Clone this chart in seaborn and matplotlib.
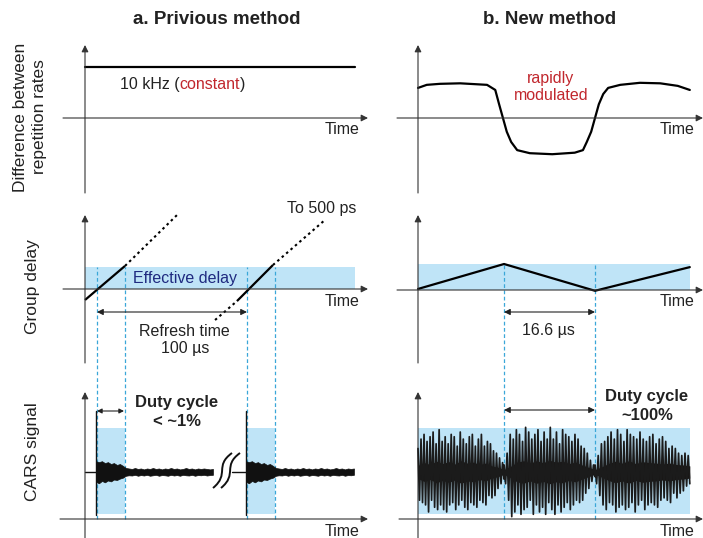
import numpy as np
import matplotlib
matplotlib.use("Agg")
import matplotlib.pyplot as plt
import seaborn as sns
from matplotlib.path import Path
from matplotlib.patches import PathPatch, Rectangle

sns.set_style("white")
plt.rcParams["font.family"] = ["Liberation Sans", "DejaVu Sans"]

W, H = 703, 538

# ---------------------------------------------------------------
# DATA
# ---------------------------------------------------------------
# top row: difference between repetition rates (kHz)
old_rate_t = [0, 180]
old_rate_v = [10, 10]
new_rate_t = [0.0, 1.6, 4.0, 7.7, 12.6, 14.1, 14.8, 15.5, 16.2, 17.0, 18.1, 20.4, 24.5,
              28.6, 30.1, 30.8, 31.6, 32.3, 33.0, 33.8, 34.7, 36.9, 40.5, 44.2, 47.4, 49.6]
new_rate_v = [5.9, 6.5, 6.7, 6.8, 6.5, 5.5, 2.7, 0.0, -2.7, -4.7, -6.3, -6.9, -7.1,
              -6.8, -6.3, -4.7, -2.7, 0.0, 2.7, 4.7, 5.9, 6.5, 6.9, 6.8, 6.3, 5.5]

# middle row: group delay (effective delay window = 0..1)
old_solid = [([0, 26.7], [-0.5, 1.05]), ([101.3, 125.3], [-0.55, 1.09])]
old_dotted = [([26.7, 61.3], [1.05, 3.36]), ([86.7, 101.3], [-1.41, -0.55]),
              ([125.3, 160], [1.09, 3.14])]
new_delay_t = [0, 15.7, 32.3, 49.6]
new_delay_v = [0.04, 1.0, -0.03, 0.88]
old_band_t = [0, 180]
new_band_t = [0, 49.6]
old_marks = [8, 26.5, 108, 126.5]      # µs
new_marks = [15.7, 32.3]               # µs

# bottom row: CARS signal (baseline 10 a.u.)
baseline = 10
old_spikes = [7.3, 107.3]
old_ends = [85.3, 179.3]
spike_lo, spike_hi = 0.85, 23.0
env_step = 2.0
env_upper = [2.3, 2.1, 2.3, 1.9, 2.1, 1.7, 1.9, 1.5, 1.7, 1.3, 0.85, 0.75, 0.65, 0.85,
             0.65, 0.75, 0.55, 0.75, 0.65, 0.85, 0.65, 0.75, 0.55, 0.75, 0.65, 0.85,
             0.65, 0.75, 0.55, 0.65, 0.85, 0.65, 0.75, 0.55, 0.75, 0.65, 0.75, 0.65,
             0.55, 0.65]
env_lower = [2.1, 2.4, 1.9, 2.2, 1.8, 2.0, 1.6, 1.7, 1.4, 1.2, 0.8, 0.7, 0.75, 0.6,
             0.8, 0.65, 0.75, 0.6, 0.8, 0.7, 0.6, 0.8, 0.65, 0.7, 0.8, 0.6, 0.75, 0.65,
             0.8, 0.6, 0.7, 0.75, 0.6, 0.8, 0.65, 0.7, 0.6, 0.75, 0.65, 0.6]
old_cars_band = [(8, 26.5), (108, 126.5)]
cars_band_v = (1.06, 19.4)

new_seg1 = [5, -6, 7, -6.5, 8, -7, 6.5, -8.5, 7.5, -6, 8.5, -7.5, 6, -8, 9, -7, 6.5, -8,
            7.5, -8.5, 6, -7, 8, -6.5, 7.5, -8, 5.5, -7, 8.5, -6, 7, -7.5, 6, -8, 7.5,
            -6.5, 8, -7, 5.5, -7.5, 7, -6, 8, -6.5, 5.5, -7, 6.5, -5, 6, -5.5, 4.5, -5,
            4, -3.5, 3, -2.5, 2, -1.5]
new_seg2 = [1.5, -2.5, 4, -6, 8, -9.5, 7, -8.5, 9, -7, 8, -9, 6.5, -8, 9.5, -7.5, 8.5,
            -6, 7, -9, 8, -7, 9, -8.5, 6.5, -7.5, 8.5, -9, 7, -6.5, 9.5, -8, 7, -9, 8.5,
            -7, 6, -8.5, 9, -7.5, 8, -6.5, 7.5, -8, 6.5, -7, 8, -6, 7, -6.5, 5.5, -6, 5,
            -4.5, 4, -3.5, 2.5, -2, 1.5, -1]
new_seg3 = [1.5, -2.5, 3.5, -5, 6, -7, 6.5, -8, 7.5, -6.5, 8.5, -7, 7, -8.5, 9, -7.5, 8,
            -7, 6.5, -8, 9, -7.5, 8, -6.5, 7.5, -8.5, 7, -7, 8.5, -6, 7, -8, 6.5, -7,
            7.5, -6.5, 8, -7, 6, -7.5, 7, -6, 7.5, -5.5, 6.5, -6, 5, -6.5, 5.5, -4.5, 5,
            -5.5, 4, -4.5, 3.5, -4, 4, -3, 3.5, -2.5]
# dense dark core of the new-method signal (half width, a.u.)
new_core1 = [1.4, 2.0, 1.6, 2.3, 1.8, 2.2, 1.7, 2.4, 1.9, 2.1, 1.6, 1.9, 1.3, 1.0, 0.5]
new_core2 = [0.5, 1.2, 2.1, 2.4, 1.9, 2.4, 2.0, 2.5, 2.1, 2.3, 1.8, 2.1, 1.5, 1.0, 0.5]
new_core3 = [0.5, 1.1, 1.8, 2.3, 1.9, 2.4, 1.8, 2.2, 2.0, 1.9, 1.7, 1.9, 1.6, 1.5, 1.3]
new_seg_edges = [0, 15.7, 32.3, 49.6]

# ---------------------------------------------------------------
# STYLE
# ---------------------------------------------------------------
BAND = "#bfe4f7"
CYAN = "#3aa7d8"
AXC = "#333333"
TXT = "#222222"
RED = "#c1272d"
NAVY = "#1f2a80"

fig = plt.figure(figsize=(W / 100, H / 100), dpi=100)
MAP = {}


def panel(cols, rows, x0, xs, y0, ys):
    l, r = cols
    t, b = rows
    ax = fig.add_axes([l / W, 1 - b / H, (r - l) / W, (b - t) / H])
    ax.set_xlim((l - x0) / xs, (r - x0) / xs)
    ax.set_ylim((y0 - b) / ys, (y0 - t) / ys)
    ax.set_axis_off()
    MAP[ax] = (x0, xs, y0, ys)
    return ax


def d(ax, px, py):
    x0, xs, y0, ys = MAP[ax]
    return ((px - x0) / xs, (y0 - py) / ys)


def arrow(ax, p_from, p_to, style="-|>", lw=0.8, ms=10, color=AXC):
    ax.annotate("", xy=d(ax, *p_to), xytext=d(ax, *p_from),
                arrowprops=dict(arrowstyle=style, color=color, lw=lw,
                                mutation_scale=ms, shrinkA=0, shrinkB=0),
                annotation_clip=False)


def axes_lines(ax, xl, xr, xy, yx, yb, yt):
    arrow(ax, (xl, xy), (xr, xy))
    arrow(ax, (yx, yb), (yx, yt))


def ftext(px, py, s, **kw):
    return fig.text(px / W, 1 - py / H, s, ha=kw.pop("ha", "center"),
                    va=kw.pop("va", "center"), **kw)


COL_A, COL_B = (55, 378), (388, 703)
ROW_T, ROW_M, ROW_B = (30, 200), (200, 375), (375, 538)

ax_at = panel(COL_A, ROW_T, 85, 1.5, 118, 5.1)
ax_bt = panel(COL_B, ROW_T, 418, 5.48, 118, 5.1)
ax_am = panel(COL_A, ROW_M, 85, 1.5, 289, 22)
ax_bm = panel(COL_B, ROW_M, 418, 5.48, 290, 26)
ax_ab = panel(COL_A, ROW_B, 85, 1.5, 519, 4.7)
ax_bb = panel(COL_B, ROW_B, 418, 5.48, 519, 4.7)

# ---- top row ----
axes_lines(ax_at, 63, 368, 118, 85, 193, 45)
axes_lines(ax_bt, 397, 703, 118, 418, 193, 45)
sns.lineplot(x=old_rate_t, y=old_rate_v, ax=ax_at, color="black", lw=1.6, sort=False)
sns.lineplot(x=new_rate_t, y=new_rate_v, ax=ax_bt, color="black", lw=1.6, sort=False)

# ---- middle row ----
ax_am.add_patch(Rectangle((old_band_t[0], 0), old_band_t[1] - old_band_t[0], 1,
                          color=BAND, lw=0, zorder=0))
ax_bm.add_patch(Rectangle((new_band_t[0], 0), new_band_t[1] - new_band_t[0], 1,
                          color=BAND, lw=0, zorder=0))
axes_lines(ax_am, 63, 368, 289, 85, 363, 215)
axes_lines(ax_bm, 397, 703, 290, 418, 363, 215)
for t, v in old_solid:
    ax_am.plot(t, v, color="black", lw=1.6, solid_capstyle="butt")
for t, v in old_dotted:
    ax_am.plot(t, v, color="black", lw=1.5, ls=(0, (1.2, 1.6)))
sns.lineplot(x=new_delay_t, y=new_delay_v, ax=ax_bm, color="black", lw=1.6, sort=False)

for ax_m, ax_b, marks in [(ax_am, ax_ab, old_marks), (ax_bm, ax_bb, new_marks)]:
    for m in marks:
        ax_m.plot([m, m], [ax_m.get_ylim()[0], 1.0], color=CYAN, lw=0.9,
                  ls=(0, (3, 2)), zorder=1)
        ax_b.plot([m, m], [0, ax_b.get_ylim()[1]], color=CYAN, lw=0.9,
                  ls=(0, (3, 2)), zorder=1)

# ---- bottom row ----
for a0, a1 in old_cars_band:
    ax_ab.add_patch(Rectangle((a0, cars_band_v[0]), a1 - a0, cars_band_v[1] - cars_band_v[0],
                              color=BAND, lw=0, zorder=0))
ax_bb.add_patch(Rectangle((new_band_t[0], cars_band_v[0]), new_band_t[1] - new_band_t[0],
                          cars_band_v[1] - cars_band_v[0], color=BAND, lw=0, zorder=0))
axes_lines(ax_ab, 60, 368, 519, 85, 545, 392)
axes_lines(ax_bb, 399, 703, 519, 418, 545, 392)

env_t = np.arange(len(env_upper)) * env_step
for s, e in zip(old_spikes, old_ends):
    keep = s + env_t <= e
    tt = s + env_t[keep]
    ax_ab.fill_between(tt, baseline - np.array(env_lower)[keep],
                       baseline + np.array(env_upper)[keep], color="#111111", lw=0.5,
                       edgecolor="#111111", zorder=3)
    ax_ab.plot([s, s], [spike_lo, spike_hi], color="#111111", lw=1.0, zorder=3)
ax_ab.plot([0, old_spikes[0]], [baseline, baseline], color="#111111", lw=1.0)
ax_ab.plot([98, old_spikes[1]], [baseline, baseline], color="#111111", lw=1.0)

# break marks
for off in (0, 8):
    x0, y0 = d(ax_ab, 213 + off, 488)
    pts = [(x0, y0), (x0 + 17 / 1.5, y0 + 14 / 4.7), (x0 + 1 / 1.5, y0 + 22 / 4.7),
           (x0 + 19 / 1.5, y0 + 35 / 4.7)]
    path = Path(pts, [Path.MOVETO, Path.CURVE4, Path.CURVE4, Path.CURVE4])
    ax_ab.add_patch(PathPatch(path, fc="none", ec="#111111", lw=1.4, zorder=4))

seg_t, seg_v = [], []
for k, (seg, core) in enumerate([(new_seg1, new_core1), (new_seg2, new_core2),
                                 (new_seg3, new_core3)]):
    seg_t.append(np.linspace(new_seg_edges[k], new_seg_edges[k + 1], len(seg)))
    seg_v.append(baseline + np.array(seg))
    ct = np.linspace(new_seg_edges[k], new_seg_edges[k + 1], len(core))
    ax_bb.fill_between(ct, baseline - np.array(core), baseline + np.array(core),
                       color="#161210", lw=0, zorder=3)
ax_bb.plot(np.concatenate(seg_t), np.concatenate(seg_v), color="#1b1b1b", lw=1.25,
           zorder=3)

# ---- annotations ----
arrow(ax_am, (97, 312), (247, 312), style="<|-|>", ms=9, color=TXT)
arrow(ax_bm, (504, 312), (595, 312), style="<|-|>", ms=9, color=TXT)
arrow(ax_ab, (97, 411), (124, 411), style="<|-|>", ms=7, color=TXT)
arrow(ax_bb, (504, 410), (595, 410), style="<|-|>", ms=9, color=TXT)

ftext(217, 20, "a. Privious method", fontsize=13.5, fontweight="bold", color=TXT)
ftext(550, 20, "b. New method", fontsize=13.5, fontweight="bold", color=TXT)
ftext(30, 117, "Difference between\nrepetition rates", fontsize=12.5, rotation=90,
      linespacing=1.3, color=TXT)
ftext(33, 287, "Group delay", fontsize=12.5, rotation=90, color=TXT)
ftext(33, 452, "CARS signal", fontsize=12.5, rotation=90, color=TXT)

for x in (342, 677):
    for y in (130, 302, 532):
        ftext(x, y, "Time", fontsize=11.5, color=TXT)

ftext(551, 79, "rapidly", fontsize=11.5, color=RED)
ftext(551, 96, "modulated", fontsize=11.5, color=RED)
ftext(185, 278, "Effective delay", fontsize=11.5, color=NAVY)
ftext(322, 208, "To 500 ps", fontsize=11.5, color=TXT)
ftext(184, 331, "Refresh time", fontsize=11.5, color=TXT)
ftext(185, 348, "100 µs", fontsize=11.5, color=TXT)
ftext(548, 331, "16.6 µs", fontsize=11.5, color=TXT)
ftext(177, 403, "Duty cycle", fontsize=12, fontweight="bold", color=TXT)
ftext(177, 422, "< ~1%", fontsize=12, fontweight="bold", color=TXT)
ftext(647, 397, "Duty cycle", fontsize=12, fontweight="bold", color=TXT)
ftext(647, 415, "~100%", fontsize=12, fontweight="bold", color=TXT)

# "10 kHz (constant)" with the word in red
t1 = ftext(120, 84, "10 kHz (", ha="left", fontsize=11.5, color=TXT)
fig.canvas.draw()
t2 = fig.text(t1.get_window_extent().x1 / W, 1 - 84 / H, "constant", fontsize=11.5,
              va="center", color=RED)
fig.canvas.draw()
fig.text(t2.get_window_extent().x1 / W, 1 - 84 / H, ")", fontsize=11.5, va="center",
         color=TXT)

fig.savefig("out.png", dpi=100)
